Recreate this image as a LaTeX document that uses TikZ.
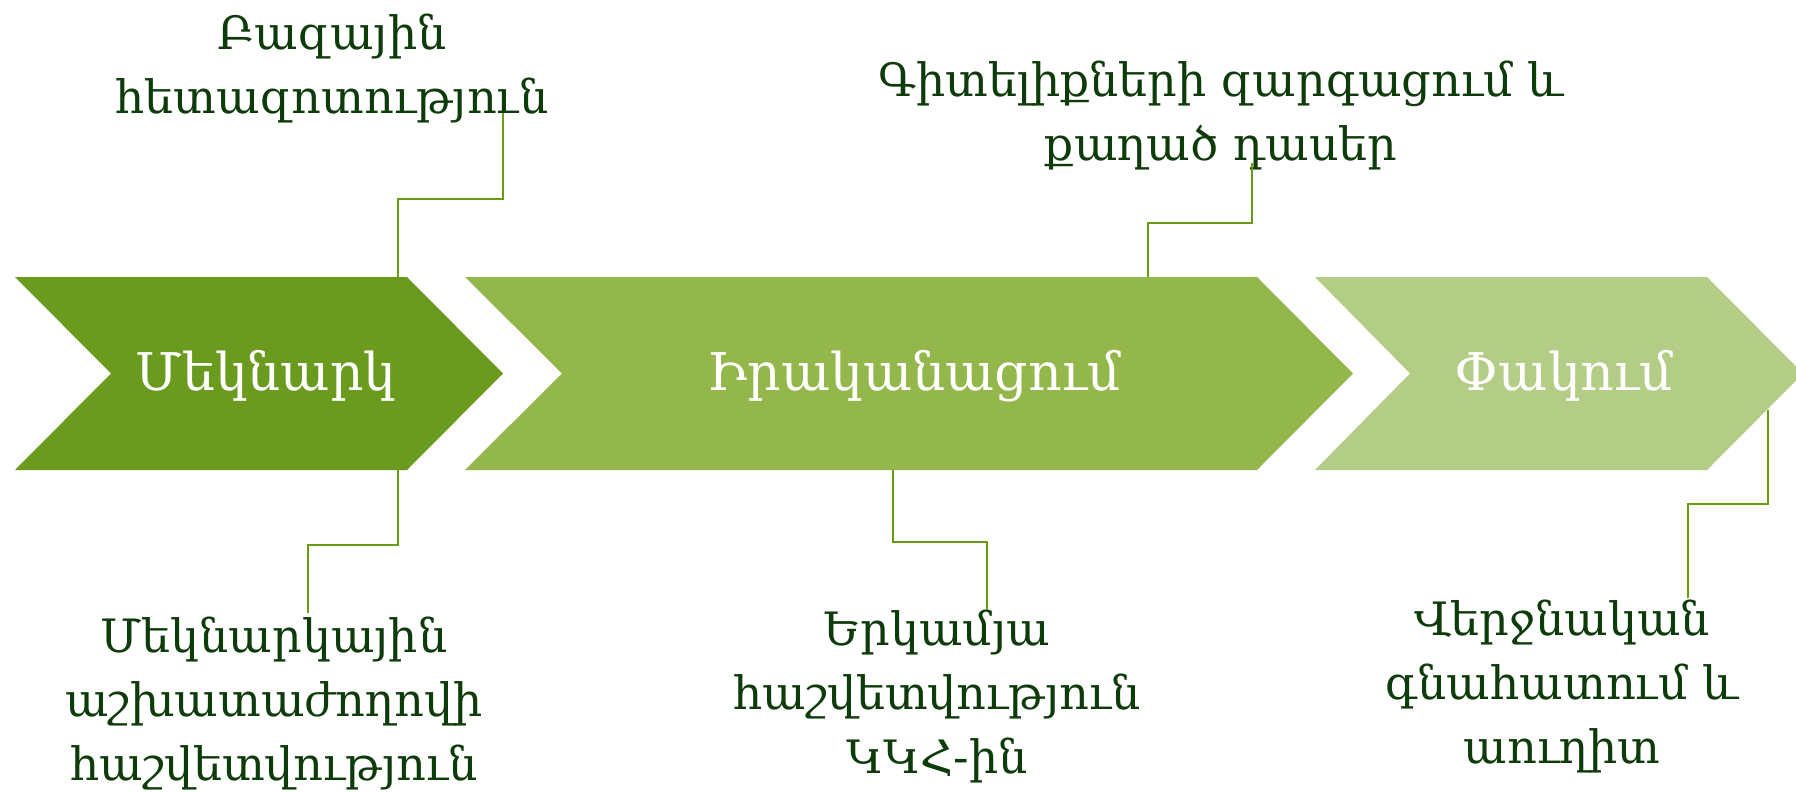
\documentclass[tikz,border=0pt]{standalone}
\usepackage{fontspec}
\setmainfont{DejaVu Serif}
\definecolor{cA}{HTML}{6B9B1E}
\definecolor{cB}{HTML}{93B74A}
\definecolor{cC}{HTML}{B3CD86}
\definecolor{txt}{HTML}{0E3B0A}
\definecolor{ln}{HTML}{6A9C12}
\tikzset{
  chevlabel/.style={text=white,font=\fontsize{52}{60}\selectfont,inner sep=0pt},
  note/.style={text=txt,font=\fontsize{46}{64}\selectfont,align=center,inner sep=0pt,anchor=base},
  conn/.style={draw=ln,line width=2pt}
}
\begin{document}
\begin{tikzpicture}[x=1pt,y=-1pt]
\useasboundingbox (0,0) rectangle (1796,792);
% chevrons
\fill[cA] (15,277) -- (407,277) -- (503,373.5) -- (407,470) -- (15,470) -- (111,373.5) -- cycle;
\fill[cB] (465,277) -- (1257,277) -- (1353,373.5) -- (1257,470) -- (465,470) -- (562,373.5) -- cycle;
\fill[cC] (1315,277) -- (1707,277) -- (1803,373.5) -- (1707,470) -- (1315,470) -- (1410,373.5) -- cycle;
\node[chevlabel] (l1) at (266,376) {Մեկնարկ};
\node[chevlabel] (l2) at (914,376) {Իրականացում};
\node[chevlabel] (l3) at (1564,376) {Փակում};
% notes
\node[note] (n1) at (332,113) {Բազային\\հետազոտություն};
\node[note] (n2) at (1221,160) {Գիտելիքների զարգացում և\\քաղած դասեր};
\node[note] (n3) at (274,780) {Մեկնարկային\\աշխատաժողովի\\հաշվետվություն};
\node[note] (n4) at (937,773) {Երկամյա\\հաշվետվություն\\ԿԿՀ-ին};
\node[note] (n5) at (1562,763) {Վերջնական\\գնահատում և\\աուղիտ};
% connector points
\coordinate (a1) at (398,277); \coordinate (e1) at (503,113);
\coordinate (a2) at (1148,277); \coordinate (e2) at (1252,163);
\coordinate (a3) at (398,470); \coordinate (e3) at (308,613);
\coordinate (a4) at (893,470); \coordinate (e4) at (987,610);
\coordinate (a5) at (1768,410); \coordinate (e5) at (1688,598);
\draw[conn] (a1) -- ++(0,-78) -| (e1);
\draw[conn] (a2) -- ++(0,-54) -| (e2);
\draw[conn] (a3) -- ++(0,75) -| (e3);
\draw[conn] (a4) -- ++(0,72) -| (e4);
\draw[conn] (a5) -- ++(0,94) -| (e5);
\end{tikzpicture}
\end{document}
